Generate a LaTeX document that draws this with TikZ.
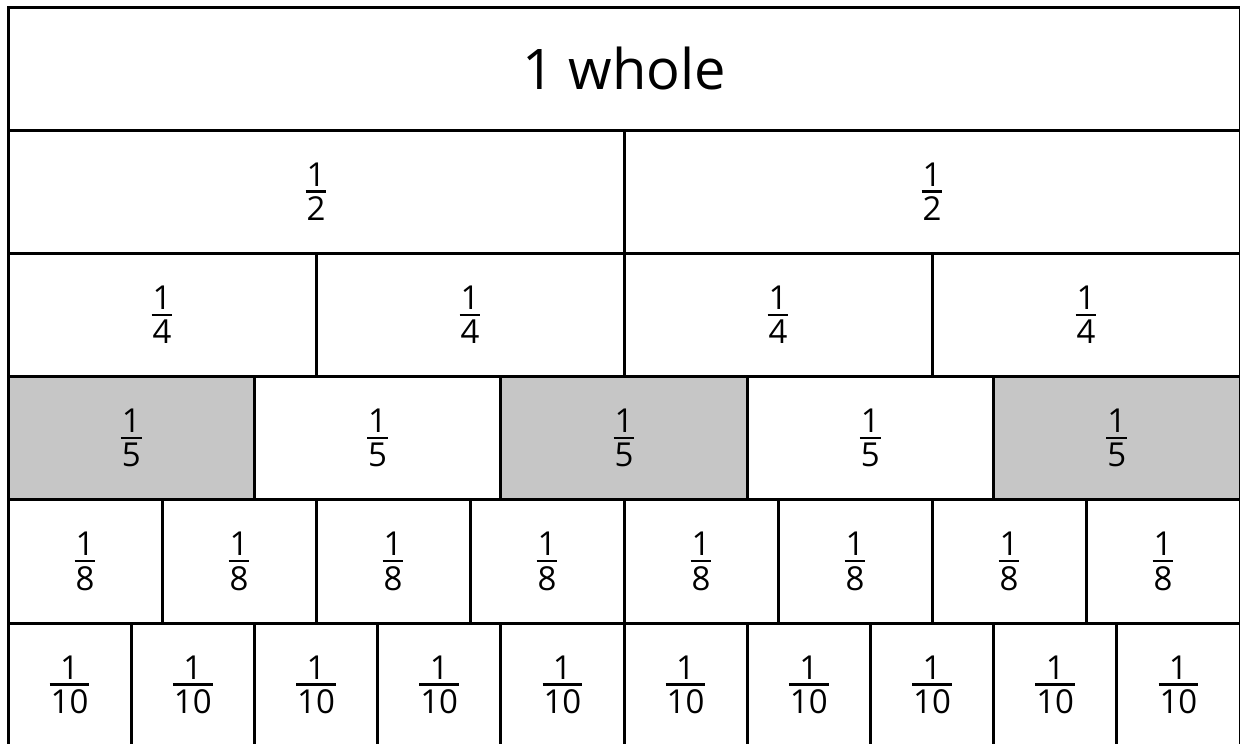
\documentclass[tikz,border=0pt]{standalone}
\usepackage{fontspec}
\setmainfont{Open Sans}
\definecolor{shadegray}{RGB}{198,198,198}
\newsavebox\frnumbox
\newsavebox\frdenbox
\newlength\frwd
\newcommand{\fr}[2]{%
  \sbox\frnumbox{#1}\sbox\frdenbox{#2}%
  \ifdim\wd\frnumbox>\wd\frdenbox \setlength\frwd{\wd\frnumbox}\else\setlength\frwd{\wd\frdenbox}\fi
  \addtolength\frwd{2pt}%
  \vbox{\hbox to\frwd{\hss\usebox\frnumbox\hss}\kern4pt\hrule height 2.5pt\kern4pt\hbox to\frwd{\hss\usebox\frdenbox\hss}}}
\tikzset{
  cell/.style={draw=black, line width=3pt, minimum height=123.2pt, inner sep=0pt, outer sep=0pt, font=\fontsize{33}{40}\selectfont},
  shaded/.style={fill=shadegray},
  title/.style={font=\fontsize{56}{66}\selectfont}
}
\begin{document}
\begin{tikzpicture}[x=1pt,y=-1pt]
\useasboundingbox (0,0) rectangle (1240,744);
\node[cell, title, minimum width=1232pt] (whole) at (624,68.6) {1 whole};
\foreach \n [count=\r from 2] in {2,4,5,8,10} {
  \foreach \k in {1,...,\n} {
    \pgfmathsetmacro\cx{8+(\k-0.5)*1232/\n}
    \pgfmathsetmacro\cy{7+(\r-0.5)*123.2}
    \pgfmathsetmacro\cw{1232/\n}
    \ifnum\n=5
      \ifodd\k
        \node[cell, shaded, minimum width=\cw pt] (c\n-\k) at (\cx,\cy) {\fr{1}{\n}};
      \else
        \node[cell, minimum width=\cw pt] (c\n-\k) at (\cx,\cy) {\fr{1}{\n}};
      \fi
    \else
      \node[cell, minimum width=\cw pt] (c\n-\k) at (\cx,\cy) {\fr{1}{\n}};
    \fi
  }
}
\end{tikzpicture}
\end{document}
